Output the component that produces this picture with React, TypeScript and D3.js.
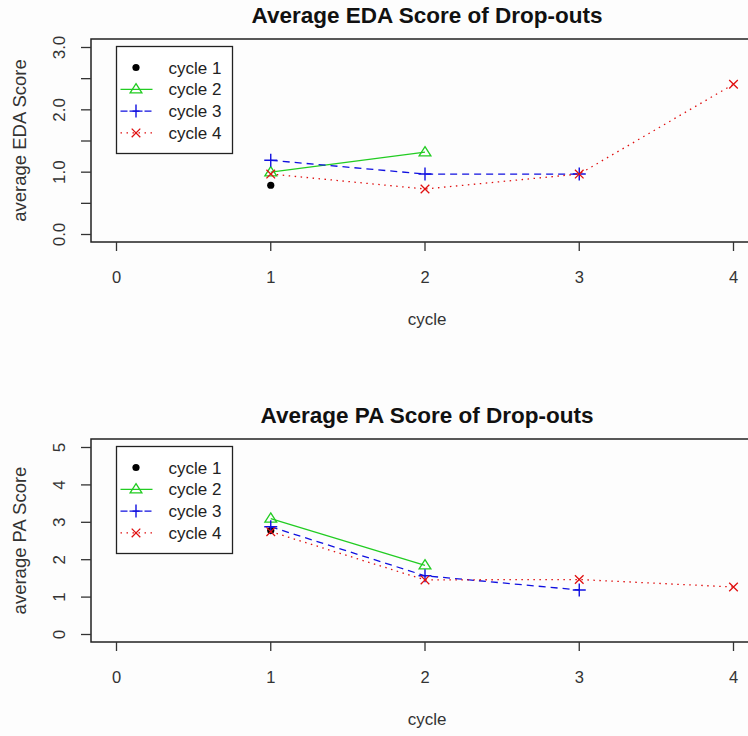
import { useEffect, useRef } from 'react'
import * as d3 from 'd3'

// x positions (cycle number) and tick values
const cycleTicks = [0, 1, 2, 3, 4]
const seriesNames = ['cycle 1', 'cycle 2', 'cycle 3', 'cycle 4']

// EDA panel
const edaCycle1 = [0.79]
const edaCycle2 = [1.0, 1.32]
const edaCycle3 = [1.19, 0.97, 0.97]
const edaCycle4 = [0.97, 0.73, 0.97, 2.41]
const edaTicks = [0, 0.5, 1, 1.5, 2, 2.5, 3]
const edaTickLabels = ['0.0', '', '1.0', '', '2.0', '', '3.0']

// PA panel
const paCycle1 = [2.78]
const paCycle2 = [3.1, 1.85]
const paCycle3 = [2.88, 1.57, 1.19]
const paCycle4 = [2.75, 1.46, 1.47, 1.27]
const paTicks = [0, 1, 2, 3, 4, 5]
const paTickLabels = ['0', '1', '2', '3', '4', '5']

const STYLES = [
  { color: '#000000', dash: null, symbol: 'dot', line: false },
  { color: '#22cc22', dash: null, symbol: 'triangle', line: true },
  { color: '#1010e0', dash: '7,5', symbol: 'plus', line: true },
  { color: '#e01010', dash: '1.5,4.5', symbol: 'cross', line: true },
]

const FONT = 'Liberation Sans, Arial, sans-serif'

function drawSymbol(g, kind, cx, cy, color) {
  if (kind === 'dot') {
    g.append('circle').attr('cx', cx).attr('cy', cy).attr('r', 3.6).attr('fill', color)
  } else if (kind === 'triangle') {
    const s = 5.6
    g.append('path')
      .attr('d', `M${cx},${cy - s} L${cx + s * 1.05},${cy + s * 0.65} L${cx - s * 1.05},${cy + s * 0.65} Z`)
      .attr('fill', 'none').attr('stroke', color).attr('stroke-width', 1.3)
  } else if (kind === 'plus') {
    const s = 6.5
    g.append('path')
      .attr('d', `M${cx - s},${cy} H${cx + s} M${cx},${cy - s} V${cy + s}`)
      .attr('stroke', color).attr('stroke-width', 1.4)
  } else {
    const s = 4.3
    g.append('path')
      .attr('d', `M${cx - s},${cy - s} L${cx + s},${cy + s} M${cx - s},${cy + s} L${cx + s},${cy - s}`)
      .attr('stroke', color).attr('stroke-width', 1.3)
  }
}

function drawPanel(svg, opts) {
  const { top, title, yLabel, yMax, ticks, tickLabels, series } = opts
  const box = { left: 91, right: 763, top: top, bottom: top + 203 }

  const x = d3.scaleLinear().domain([0, 4]).range([116.5, 733.5])
  const y = d3.scaleLinear().domain([0, yMax]).range([box.bottom - 7.5, box.top + 8.5])

  const g = svg.append('g')

  // title
  g.append('text')
    .attr('x', (box.left + box.right) / 2)
    .attr('y', box.top - 16)
    .attr('text-anchor', 'middle')
    .attr('font-family', FONT)
    .attr('font-weight', 'bold')
    .attr('font-size', 22.5)
    .attr('fill', '#111')
    .text(title)

  // plot box
  g.append('rect')
    .attr('x', box.left).attr('y', box.top)
    .attr('width', box.right - box.left).attr('height', box.bottom - box.top)
    .attr('fill', 'none').attr('stroke', '#222').attr('stroke-width', 1.5)

  // x axis
  const xAxis = g.append('g')
  xAxis.selectAll('line').data(cycleTicks).enter().append('line')
    .attr('x1', d => x(d)).attr('x2', d => x(d))
    .attr('y1', box.bottom).attr('y2', box.bottom + 9)
    .attr('stroke', '#333').attr('stroke-width', 1.3)
  xAxis.selectAll('text').data(cycleTicks).enter().append('text')
    .attr('x', d => x(d)).attr('y', box.bottom + 41)
    .attr('text-anchor', 'middle')
    .attr('font-family', FONT).attr('font-size', 16.5).attr('fill', '#333')
    .text(d => String(d))
  g.append('text')
    .attr('x', (box.left + box.right) / 2).attr('y', box.bottom + 83)
    .attr('text-anchor', 'middle')
    .attr('font-family', FONT).attr('font-size', 17).attr('fill', '#333')
    .text('cycle')

  // y axis
  const yAxis = g.append('g')
  yAxis.selectAll('line').data(ticks).enter().append('line')
    .attr('x1', box.left - 10).attr('x2', box.left)
    .attr('y1', d => y(d)).attr('y2', d => y(d))
    .attr('stroke', '#333').attr('stroke-width', 1.3)
  yAxis.selectAll('text').data(ticks).enter().append('text')
    .attr('transform', d => `translate(65,${y(d)}) rotate(-90)`)
    .attr('text-anchor', 'middle')
    .attr('font-family', FONT).attr('font-size', 17).attr('fill', '#333')
    .text((d, i) => tickLabels[i])
  g.append('text')
    .attr('transform', `translate(26,${(box.top + box.bottom) / 2}) rotate(-90)`)
    .attr('text-anchor', 'middle')
    .attr('font-family', FONT).attr('font-size', 18.5).attr('fill', '#333')
    .text(yLabel)

  // series
  series.forEach((values, si) => {
    const st = STYLES[si]
    const pts = values.map((v, i) => [x(i + 1), y(v)])
    if (st.line && pts.length > 1) {
      g.append('path')
        .attr('d', d3.line()(pts))
        .attr('fill', 'none')
        .attr('stroke', st.color)
        .attr('stroke-width', 1.3)
        .attr('stroke-dasharray', st.dash)
    }
    pts.forEach(p => drawSymbol(g, st.symbol, p[0], p[1], st.color))
  })

  // legend, anchored at (0, yMax)
  const lx = x(0)
  const ly = y(yMax) - 1
  g.append('rect')
    .attr('x', lx).attr('y', ly).attr('width', 116).attr('height', 107)
    .attr('fill', 'white').attr('stroke', '#222').attr('stroke-width', 1.3)
  seriesNames.forEach((name, i) => {
    const st = STYLES[i]
    const cy = ly + 21 + i * 21.8
    if (st.line) {
      g.append('line')
        .attr('x1', lx + 4).attr('x2', lx + 36).attr('y1', cy).attr('y2', cy)
        .attr('stroke', st.color).attr('stroke-width', 1.3)
        .attr('stroke-dasharray', st.dash)
    }
    drawSymbol(g, st.symbol, lx + 19.5, cy, st.color)
    g.append('text')
      .attr('x', lx + 52).attr('y', cy + 6)
      .attr('font-family', FONT).attr('font-size', 17).attr('fill', '#222')
      .text(name)
  })
}

export default function App() {
  const ref = useRef(null)

  useEffect(() => {
    if (!ref.current) return
    const svg = d3.select(ref.current)
    svg.selectAll('*').remove()

    drawPanel(svg, {
      top: 39,
      title: 'Average EDA Score of Drop-outs',
      yLabel: 'average EDA Score',
      yMax: 3,
      ticks: edaTicks,
      tickLabels: edaTickLabels,
      series: [edaCycle1, edaCycle2, edaCycle3, edaCycle4],
    })
    drawPanel(svg, {
      top: 439,
      title: 'Average PA Score of Drop-outs',
      yLabel: 'average PA Score',
      yMax: 5,
      ticks: paTicks,
      tickLabels: paTickLabels,
      series: [paCycle1, paCycle2, paCycle3, paCycle4],
    })
  }, [])

  return (
    <svg
      ref={ref}
      width={748}
      height={736}
      style={{ position: 'absolute', left: 0, top: 0, background: '#fdfdfd' }}
    />
  )
}
